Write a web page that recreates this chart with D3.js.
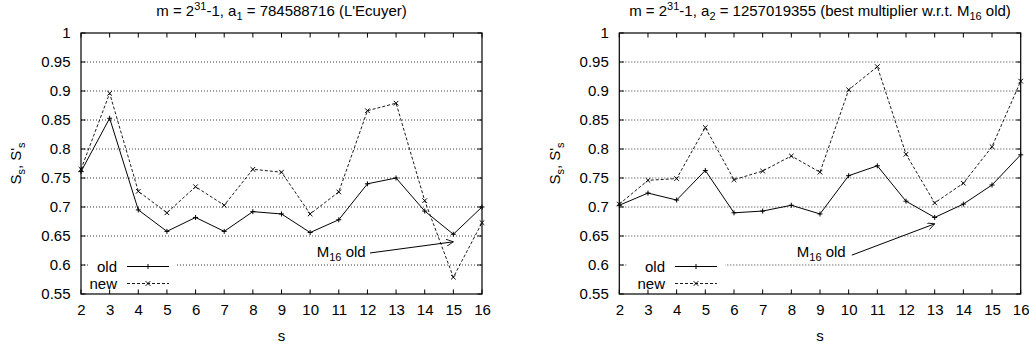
<!DOCTYPE html>
<html><head><meta charset="utf-8">
<script src="https://cdn.jsdelivr.net/npm/d3@7/dist/d3.min.js"></script>
<style>body{margin:0;background:#fff}svg text{font-family:"Liberation Sans",Arial,sans-serif;fill:#000}</style>
</head><body><svg id="c" width="1029" height="349"></svg>
<script>
const sValues = [2,3,4,5,6,7,8,9,10,11,12,13,14,15,16];
const yTicks = [0.55,0.6,0.65,0.7,0.75,0.8,0.85,0.9,0.95,1];
const leftOld = [0.761,0.853,0.695,0.658,0.682,0.658,0.692,0.688,0.656,0.678,0.740,0.750,0.693,0.653,0.700];
const leftNew = [0.765,0.896,0.727,0.690,0.735,0.703,0.765,0.760,0.688,0.726,0.866,0.879,0.711,0.579,0.673];
const rightOld = [0.703,0.724,0.712,0.763,0.690,0.693,0.703,0.688,0.754,0.771,0.710,0.682,0.705,0.738,0.790];
const rightNew = [0.705,0.746,0.749,0.837,0.747,0.762,0.788,0.760,0.902,0.942,0.791,0.707,0.741,0.804,0.917];
const seriesNames = ["old","new"];

const FS = 15, SFS = 11;
const svg = d3.select("#c");
svg.append("defs").append("marker").attr("id","ah").attr("viewBox","0 0 10 10")
  .attr("refX",10).attr("refY",5).attr("markerWidth",9).attr("markerHeight",7)
  .attr("markerUnits","userSpaceOnUse").attr("orient","auto")
  .append("path").attr("d","M0,0 L10,5 L0,10").attr("fill","none").attr("stroke","#000").attr("stroke-width",1.2);

const panels = [
  {x0:81, x1:482, old:leftOld, neu:leftNew, titleParts:[["m = 2",""],["31","sup"],["-1, a",""],["1","sub"],[" = 784588716 (L'Ecuyer)",""]],
   ylabX:21, legX:89, legW:87, sample0:127, ann:{tx:10.23, ty:0.6143, ax0:12.09, ay0:0.6207, ax1:15, ay1:0.64}},
  {x0:619.3, x1:1020.7, old:rightOld, neu:rightNew, titleParts:[["m = 2",""],["31","sup"],["-1, a",""],["2","sub"],[" = 1257019355 (best multiplier w.r.t. M",""],["16","sub"],[" old)",""]],
   ylabX:560, legX:628, legW:97, sample0:675, ann:{tx:8.19, ty:0.6143, ax0:10.11, ay0:0.617, ax1:13, ay1:0.671}}
];

panels.forEach(p => {
  const x = d3.scaleLinear().domain([2,16]).range([p.x0,p.x1]);
  const y = d3.scaleLinear().domain([0.55,1]).range([294,33]);
  const g = svg.append("g");
  g.selectAll(".grid").data(yTicks.filter(t => t>0.56 && t<0.99)).enter().append("line")
    .attr("x1",x(2)).attr("x2",x(16)).attr("y1",d=>y(d)).attr("y2",d=>y(d))
    .attr("stroke","#222").attr("stroke-width",0.9).attr("stroke-dasharray","1,2");
  g.append("rect").attr("x",p.legX).attr("y",y(0.6)-9).attr("width",p.legW).attr("height",27).attr("fill","#fff");
  const axB = d3.axisBottom(x).tickValues(sValues).tickSize(0).tickPadding(10.5).tickFormat(d3.format("d"));
  const gb = g.append("g").attr("transform",`translate(0,294)`).call(axB);
  gb.select(".domain").remove();
  gb.selectAll("text").attr("font-size",FS).attr("font-family","Liberation Sans, Arial, sans-serif");
  const axL = d3.axisLeft(y).tickValues(yTicks).tickSize(0).tickPadding(10.5).tickFormat(d => d3.format("")(+d.toFixed(2)));
  const gl = g.append("g").attr("transform",`translate(${x(2)},0)`).call(axL);
  gl.select(".domain").remove();
  gl.selectAll("text").attr("font-size",FS).attr("font-family","Liberation Sans, Arial, sans-serif");
  sValues.forEach(s => {
    g.append("line").attr("x1",x(s)).attr("x2",x(s)).attr("y1",294).attr("y2",289.5).attr("stroke","#000");
    g.append("line").attr("x1",x(s)).attr("x2",x(s)).attr("y1",33).attr("y2",37.5).attr("stroke","#000");
  });
  yTicks.forEach(t => {
    g.append("line").attr("x1",x(2)).attr("x2",x(2)+4.5).attr("y1",y(t)).attr("y2",y(t)).attr("stroke","#000");
    g.append("line").attr("x1",x(16)).attr("x2",x(16)-4.5).attr("y1",y(t)).attr("y2",y(t)).attr("stroke","#000");
  });
  g.append("rect").attr("x",x(2)).attr("y",y(1)).attr("width",x(16)-x(2)).attr("height",y(0.55)-y(1))
    .attr("fill","none").attr("stroke","#000").attr("stroke-width",1.2);
  const line = d3.line().x((d,i)=>x(sValues[i])).y(d=>y(d));
  g.append("path").datum(p.neu).attr("d",line).attr("fill","none").attr("stroke","#000").attr("stroke-width",0.9).attr("stroke-dasharray","3,2");
  g.append("path").datum(p.old).attr("d",line).attr("fill","none").attr("stroke","#000").attr("stroke-width",1);
  const plus = (gg,cx,cy) => gg.append("path").attr("d",`M${cx-2.5},${cy}H${cx+2.5}M${cx},${cy-2.5}V${cy+2.5}`).attr("stroke","#000").attr("stroke-width",1);
  const cross = (gg,cx,cy) => gg.append("path").attr("d",`M${cx-2.3},${cy-2.3}L${cx+2.3},${cy+2.3}M${cx-2.3},${cy+2.3}L${cx+2.3},${cy-2.3}`).attr("stroke","#000").attr("stroke-width",1);
  p.old.forEach((v,i)=>plus(g,x(sValues[i]),y(v)));
  p.neu.forEach((v,i)=>cross(g,x(sValues[i]),y(v)));
  const ly = [y(0.6)+1.5, y(0.6)+18.5];
  const sampleX0 = p.sample0, sampleX1 = sampleX0 + 42;
  seriesNames.forEach((n,i) => {
    g.append("text").attr("x",sampleX0-10).attr("y",ly[i]+5.5).attr("text-anchor","end").attr("font-size",FS).text(n);
    g.append("line").attr("x1",sampleX0).attr("x2",sampleX1).attr("y1",ly[i]).attr("y2",ly[i]).attr("stroke","#000")
      .attr("stroke-width", i==0?1:0.9).attr("stroke-dasharray", i==0?null:"3,2");
    if(i==0) plus(g,(sampleX0+sampleX1)/2,ly[i]); else cross(g,(sampleX0+sampleX1)/2,ly[i]);
  });
  const t = svg.append("text").attr("x",(p.x0+p.x1)/2).attr("y",16).attr("text-anchor","middle").attr("font-size",FS);
  let prev = "";
  p.titleParts.forEach(([s,k]) => {
    const ts = t.append("tspan").text(s);
    if(k==="sup") ts.attr("font-size",SFS).attr("dy",-6);
    else if(k==="sub") ts.attr("font-size",SFS).attr("dy",4);
    else ts.attr("dy", prev==="sup"?6:prev==="sub"?-4:0);
    prev = k;
  });
  svg.append("text").attr("x",(p.x0+p.x1)/2).attr("y",341).attr("text-anchor","middle").attr("font-size",FS).text("s");
  const yl = svg.append("text").attr("transform",`translate(${p.ylabX},${(33+294)/2}) rotate(-90)`).attr("text-anchor","middle").attr("font-size",FS);
  yl.append("tspan").text("S");
  yl.append("tspan").attr("font-size",SFS).attr("dy",4).text("s");
  yl.append("tspan").attr("dy",-4).text(", S'");
  yl.append("tspan").attr("font-size",SFS).attr("dy",4).text("s");
  const at = g.append("text").attr("x",x(p.ann.tx)).attr("y",y(p.ann.ty)).attr("font-size",FS);
  at.append("tspan").text("M");
  at.append("tspan").attr("font-size",SFS).attr("dy",4).text("16");
  at.append("tspan").attr("dy",-4).text(" old");
  g.append("line").attr("x1",x(p.ann.ax0)).attr("y1",y(p.ann.ay0)).attr("x2",x(p.ann.ax1)).attr("y2",y(p.ann.ay1))
    .attr("stroke","#000").attr("stroke-width",1).attr("marker-end","url(#ah)");
});
</script></body></html>
